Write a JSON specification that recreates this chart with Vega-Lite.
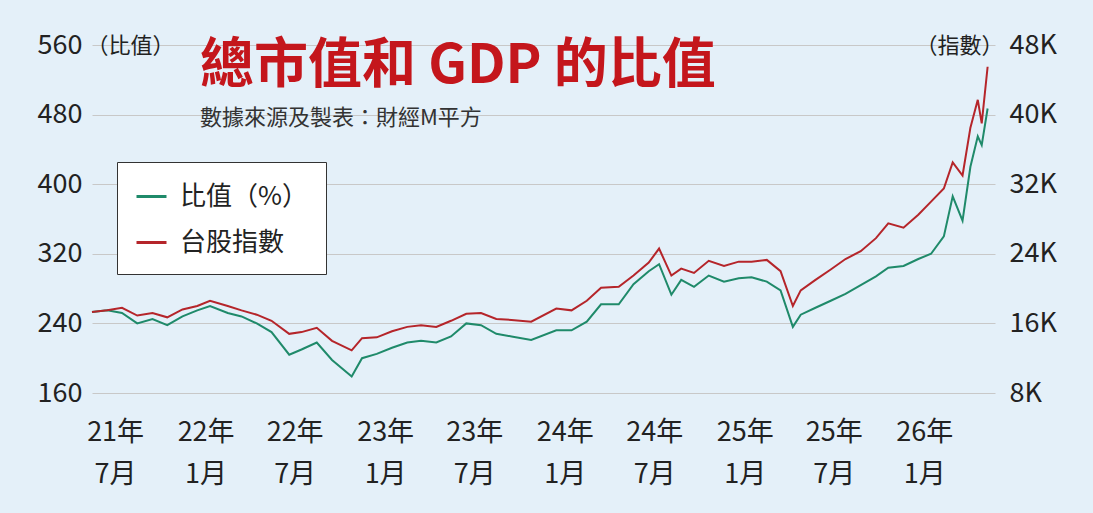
{
"$schema":"https://vega.github.io/schema/vega-lite/v6.json",
"autosize":"none","width":903,"height":348,
"padding":{"left":92,"top":45,"right":98,"bottom":120},
"background":"#e4f0f9",
"config":{"view":{"stroke":null},"font":"Noto Sans CJK TC"},
"title":{"text":"總市值和 GDP 的比值","subtitle":"數據來源及製表：財經M平方","anchor":"start","frame":"group","dx":108,"dy":102,"fontSize":54,"fontWeight":"bold","color":"#c4161c","subtitleFontSize":22,"subtitleColor":"#333","subtitlePadding":14,"font":"Noto Sans CJK TC","subtitleFont":"Noto Sans CJK TC"},
"data":{"values":[
{"d":"2021-05-15","r":253,"k":17.3},{"d":"2021-06-15","r":255,"k":17.5},{"d":"2021-07-15","r":252,"k":17.8},{"d":"2021-08-15","r":240,"k":16.9},{"d":"2021-09-15","r":245,"k":17.2},{"d":"2021-10-15","r":238,"k":16.7},{"d":"2021-11-15","r":248,"k":17.6},{"d":"2021-12-15","r":255,"k":18.0},{"d":"2022-01-10","r":260,"k":18.6},{"d":"2022-02-15","r":252,"k":18.0},{"d":"2022-03-15","r":248,"k":17.5},{"d":"2022-04-15","r":240,"k":17.0},{"d":"2022-05-15","r":230,"k":16.3},{"d":"2022-06-20","r":204,"k":14.8},{"d":"2022-07-15","r":210,"k":15.0},{"d":"2022-08-15","r":218,"k":15.5},{"d":"2022-09-15","r":198,"k":14.0},{"d":"2022-10-25","r":179,"k":12.9},{"d":"2022-11-15","r":200,"k":14.3},{"d":"2022-12-15","r":205,"k":14.4},{"d":"2023-01-15","r":212,"k":15.1},{"d":"2023-02-15","r":218,"k":15.6},{"d":"2023-03-15","r":220,"k":15.8},{"d":"2023-04-15","r":218,"k":15.6},{"d":"2023-05-15","r":225,"k":16.3},{"d":"2023-06-15","r":240,"k":17.1},{"d":"2023-07-15","r":238,"k":17.2},{"d":"2023-08-15","r":228,"k":16.5},{"d":"2023-09-15","r":225,"k":16.4},{"d":"2023-10-25","r":221,"k":16.2},{"d":"2023-12-15","r":232,"k":17.7},{"d":"2024-01-15","r":232,"k":17.5},{"d":"2024-02-15","r":242,"k":18.6},{"d":"2024-03-15","r":262,"k":20.1},{"d":"2024-04-20","r":262,"k":20.2},{"d":"2024-05-20","r":285,"k":21.5},{"d":"2024-06-20","r":300,"k":23.0},{"d":"2024-07-11","r":308,"k":24.6},{"d":"2024-08-05","r":273,"k":21.5},{"d":"2024-08-25","r":290,"k":22.3},{"d":"2024-09-20","r":282,"k":21.8},{"d":"2024-10-20","r":295,"k":23.2},{"d":"2024-11-20","r":288,"k":22.6},{"d":"2024-12-20","r":292,"k":23.1},{"d":"2025-01-15","r":293,"k":23.1},{"d":"2025-02-15","r":288,"k":23.3},{"d":"2025-03-15","r":278,"k":22.0},{"d":"2025-04-09","r":236,"k":18.0},{"d":"2025-04-25","r":250,"k":19.8},{"d":"2025-05-25","r":258,"k":21.0},{"d":"2025-06-25","r":266,"k":22.2},{"d":"2025-07-25","r":274,"k":23.4},{"d":"2025-08-25","r":284,"k":24.3},{"d":"2025-09-25","r":294,"k":25.8},{"d":"2025-10-20","r":304,"k":27.5},{"d":"2025-11-20","r":306,"k":27.0},{"d":"2025-12-20","r":314,"k":28.5},{"d":"2026-01-15","r":320,"k":30.0},{"d":"2026-02-10","r":340,"k":31.5},{"d":"2026-02-28","r":386,"k":34.5},{"d":"2026-03-20","r":358,"k":33.0},{"d":"2026-04-05","r":420,"k":38.5},{"d":"2026-04-20","r":455,"k":41.7},{"d":"2026-04-28","r":445,"k":39.0},{"d":"2026-05-10","r":487,"k":45.5}
]},
"encoding":{"x":{"field":"d","type":"temporal","scale":{"domain":["2021-05-15","2026-05-25"]},
 "axis":{"title":null,"grid":false,"domain":false,"ticks":false,"labelFontSize":27,"labelColor":"#222","labelPadding":26,"labelLineHeight":42,
 "values":["2021-07-01","2022-01-01","2022-07-01","2023-01-01","2023-07-01","2024-01-01","2024-07-01","2025-01-01","2025-07-01","2026-01-01"],
 "labelExpr":"[timeFormat(datum.value,'%y')+'年', (month(datum.value)+1)+'月']"}}},
"layer":[
{"mark":{"type":"line","strokeWidth":2},
 "encoding":{"y":{"field":"r","type":"quantitative","scale":{"domain":[160,560]},
  "axis":{"values":[160,240,320,400,480,560],"title":"（比值）","titleAngle":0,"titleX":-6,"titleY":0,"titleBaseline":"middle","titleAlign":"left","titleFontSize":22,"titleFontWeight":"normal","titleColor":"#222","domain":false,"ticks":false,"labelFontSize":27,"labelColor":"#222","labelPadding":10,"gridColor":"#c8c8c8"}},
  "color":{"datum":"比值（%）","type":"nominal","scale":{"domain":["比值（%）","台股指數"],"range":["#1f8a6a","#b5252a"]},
   "legend":{"title":null,"orient":"none","legendX":25,"legendY":117,"fillColor":"#ffffff","strokeColor":"#333","padding":18,"labelFontSize":26,"labelColor":"#222","symbolType":"stroke","symbolStrokeWidth":3,"symbolSize":900,"rowPadding":16,"labelLimit":300,"labelOffset":12}}}},
{"mark":{"type":"line","strokeWidth":2},
 "encoding":{"y":{"field":"k","type":"quantitative","scale":{"domain":[8,48]},
  "axis":{"orient":"right","values":[8,16,24,32,40,48],"labelExpr":"datum.value+'K'","title":"（指數）","titleAngle":0,"titleX":8,"titleY":0,"titleBaseline":"middle","titleAlign":"right","titleFontSize":22,"titleFontWeight":"normal","titleColor":"#222","grid":false,"domain":false,"ticks":false,"labelFontSize":27,"labelColor":"#222","labelPadding":14}},
  "color":{"datum":"台股指數","type":"nominal"}}}
],
"resolve":{"scale":{"y":"independent"}}
}
